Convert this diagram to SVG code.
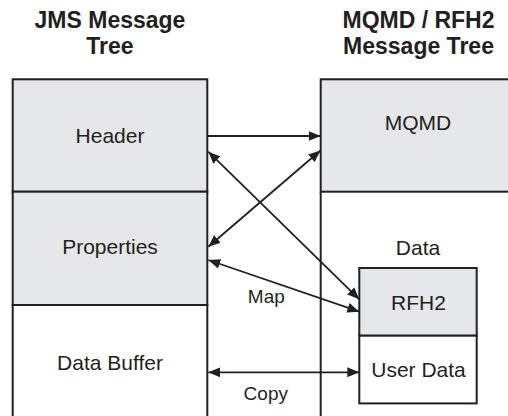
<svg xmlns="http://www.w3.org/2000/svg" width="508" height="416" viewBox="0 0 508 416">
<defs>
<style>
.box{stroke:#231f20;stroke-width:2;}
.g{fill:#e6e7e8;}
.w{fill:#ffffff;}
.ln{stroke:#231f20;stroke-width:2;fill:none;}
.t{font-family:"Liberation Sans",Arial,sans-serif;font-size:21px;fill:#231f20;text-anchor:middle;}
.lb{font-family:"Liberation Sans",Arial,sans-serif;font-size:19px;fill:#231f20;text-anchor:middle;}
.h{font-family:"Liberation Sans",Arial,sans-serif;font-size:23px;font-weight:bold;fill:#231f20;text-anchor:middle;}
.c{stroke:#231f20;stroke-width:1.8;fill:none;marker-end:url(#ah);}
.d{stroke:#231f20;stroke-width:1.8;fill:none;marker-start:url(#ah);marker-end:url(#ah);}
</style>
<marker id="ah" markerUnits="userSpaceOnUse" markerWidth="13" markerHeight="11" refX="12" refY="5" orient="auto-start-reverse" viewBox="0 0 13 10">
<path d="M0,0 L12,5 L0,10 Z" fill="#231f20"/>
</marker>
</defs>
<rect width="508" height="416" fill="#ffffff"/>
<g id="title-jms">
<text class="h" x="110" y="28">JMS Message</text>
<text class="h" x="110" y="54">Tree</text>
</g>
<g id="title-mq">
<text class="h" x="418.5" y="28">MQMD / RFH2</text>
<text class="h" x="418.5" y="54">Message Tree</text>
</g>
<g id="header">
<rect class="box g" x="12.7" y="79.3" width="194.6" height="112.4"/>
<text class="t" x="110" y="143">Header</text>
</g>
<g id="properties">
<rect class="box g" x="12.7" y="191.7" width="194.6" height="113.3"/>
<text class="t" x="110" y="254">Properties</text>
</g>
<g id="databuffer">
<path class="box w" d="M12.7,417 V305 H207.3 V417"/>
<text class="t" x="110" y="370">Data Buffer</text>
</g>
<g id="mqmd">
<rect class="box g" x="320.7" y="79.3" width="200" height="112.4"/>
<text class="t" x="418" y="130">MQMD</text>
</g>
<g id="data">
<path class="ln" d="M320.7,191.7 V417"/>
<text class="t" x="418" y="254.7">Data</text>
</g>
<g id="rfh2">
<rect class="box g" x="359.3" y="268" width="117.4" height="67.7"/>
<text class="t" x="418.5" y="309.7">RFH2</text>
</g>
<g id="userdata">
<rect class="box w" x="359.3" y="335.7" width="117.4" height="67.7"/>
<text class="t" x="418.5" y="377">User Data</text>
</g>
<g id="connectors">
<line class="c" x1="207.3" y1="136" x2="320.5" y2="136"/>
<line class="d" x1="208.3" y1="246.7" x2="320.5" y2="150.5"/>
<line class="d" x1="208.3" y1="151.7" x2="359.3" y2="299.3"/>
<line class="d" x1="208.3" y1="260" x2="359.3" y2="311.7"/>
<line class="d" x1="208.3" y1="372.3" x2="359.3" y2="372.3"/>
<text class="lb" x="266.3" y="302.7">Map</text>
<text class="lb" x="265.8" y="399.5">Copy</text>
</g>
</svg>
